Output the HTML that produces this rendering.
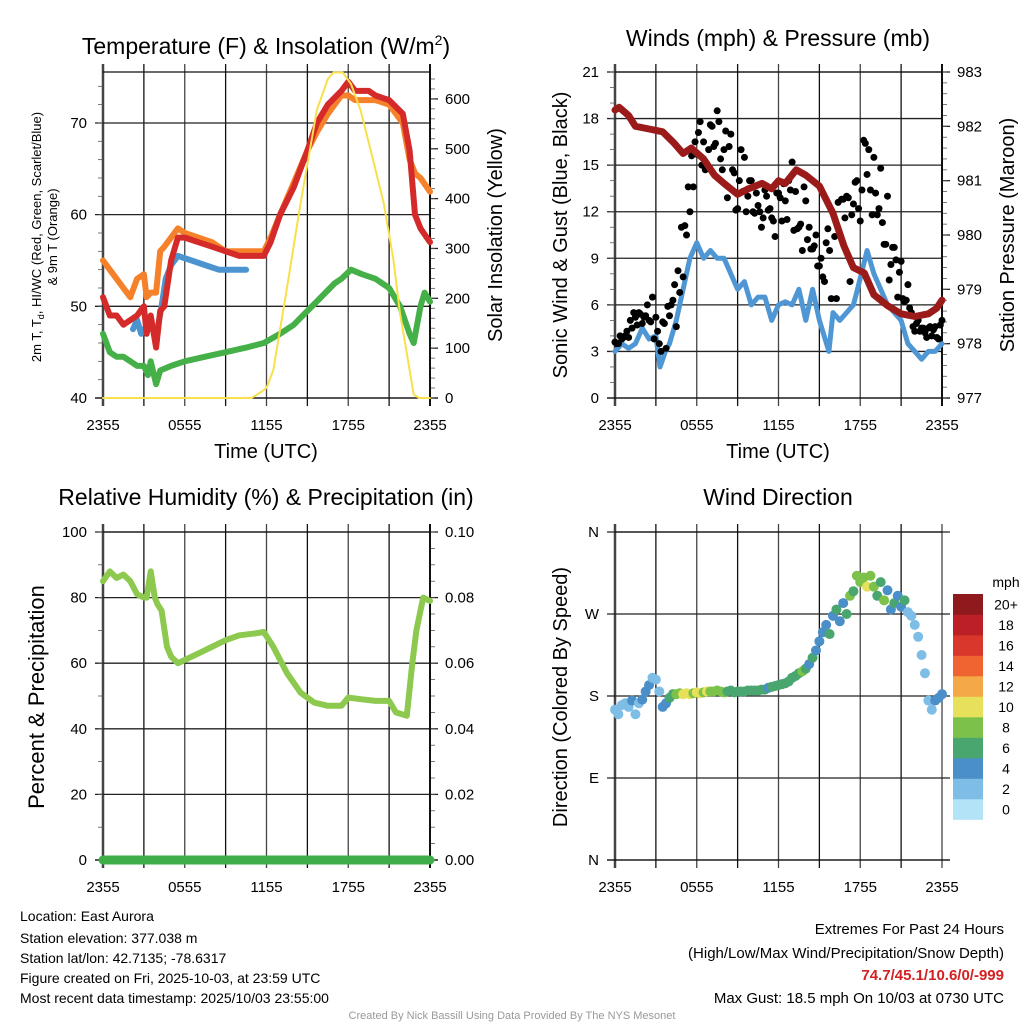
<!DOCTYPE html>
<html><head><meta charset="utf-8"><style>
html,body{margin:0;padding:0;background:#fff;}
svg{display:block;font-family:"Liberation Sans",sans-serif;}
</style></head><body>
<svg id="chart" width="1024" height="1024" viewBox="0 0 1024 1024" xmlns="http://www.w3.org/2000/svg">
<rect width="1024" height="1024" fill="#fff"/>
<text x="266" y="54" font-size="23" text-anchor="middle">Temperature (F) &amp; Insolation (W/m<tspan dy="-9" font-size="14">2</tspan><tspan dy="9">)</tspan></text>
<text x="778" y="46" font-size="23" text-anchor="middle">Winds (mph) &amp; Pressure (mb)</text>
<text x="266" y="505" font-size="23" text-anchor="middle">Relative Humidity (%) &amp; Precipitation (in)</text>
<text x="778" y="505" font-size="23" text-anchor="middle">Wind Direction</text>
<text transform="translate(41,237) rotate(-90)" font-size="13" text-anchor="middle">2m T, T<tspan dy="3" font-size="9">d</tspan><tspan dy="-3">, HI/WC (Red, Green, Scarlet/Blue)</tspan></text>
<text transform="translate(57,237) rotate(-90)" font-size="13" text-anchor="middle">&amp; 9m T (Orange)</text>
<text transform="translate(502,235) rotate(-90)" font-size="20" text-anchor="middle">Solar Insolation (Yellow)</text>
<text transform="translate(567,235) rotate(-90)" font-size="20" text-anchor="middle">Sonic Wind &amp; Gust (Blue, Black)</text>
<text transform="translate(1014,235) rotate(-90)" font-size="20" text-anchor="middle">Station Pressure (Maroon)</text>
<text transform="translate(44,697) rotate(-90)" font-size="22" text-anchor="middle">Percent &amp; Precipitation</text>
<text transform="translate(567,697) rotate(-90)" font-size="20" text-anchor="middle">Direction (Colored By Speed)</text>
<text x="266" y="458" font-size="20" text-anchor="middle">Time (UTC)</text>
<text x="778" y="458" font-size="20" text-anchor="middle">Time (UTC)</text>
<g font-size="14">
<text x="20" y="921">Location: East Aurora</text>
<text x="20" y="943">Station elevation: 377.038 m</text>
<text x="20" y="963">Station lat/lon: 42.7135; -78.6317</text>
<text x="20" y="983">Figure created on Fri, 2025-10-03, at 23:59 UTC</text>
<text x="20" y="1003">Most recent data timestamp: 2025/10/03 23:55:00</text>
</g>
<g font-size="15" text-anchor="end">
<text x="1004" y="934">Extremes For Past 24 Hours</text>
<text x="1004" y="958">(High/Low/Max Wind/Precipitation/Snow Depth)</text>
<text x="1004" y="980" fill="#d42020" font-weight="bold">74.7/45.1/10.6/0/-999</text>
<text x="1004" y="1003">Max Gust: 18.5 mph On 10/03 at 0730 UTC</text>
</g>
<text x="512" y="1019" font-size="11" fill="#999" text-anchor="middle">Created By Nick Bassill Using Data Provided By The NYS Mesonet</text>
<text x="1006" y="587" font-size="14" text-anchor="middle">mph</text>
</svg>
<script>
// ---- data (hours since 2355 UTC) ----
const tHours = [0,0.5,1,1.5,2,2.5,3,3.2,3.5,3.9,4.2,4.5,5,5.5,6,7,8,9,10,11,11.8,12.3,13,14,15,15.7,16.5,17.5,18,18.5,19.5,20,21,22,22.5,22.9,23.3,24];
const tempRed = [51,49,49,48,48.5,49,50,47,49,45.5,49.5,50,55,57.5,57.5,57,56.5,56,55.5,55.5,55.5,57,60,63,67,70,72,73.5,74.5,73.5,73.5,73,72.5,71,67,60,58.5,57];
const temp9m = [55,54,53,52,51,53,53.5,51,51.5,51.5,56,56.5,57.5,58.5,58,57.5,57,56,56,56,56,57.5,60,63.5,67,69,71,73,73,72.5,72.5,72.5,72,70,66,64.5,64,62.5];
const dewHours = [0,0.5,1,1.5,2,2.5,3,3.3,3.5,3.9,4.2,5,6,7.5,9,10.5,11.8,13,14,15,16,17,17.5,18.2,19,20,21,21.8,22.5,22.8,23.3,23.6,24];
const dewPt = [47,45,44.5,44.5,44,43.5,43.5,42.5,44,41.5,43,43.5,44,44.5,45,45.5,46,47,48,49.5,51,52.5,53,54,53.5,53,52,50,47,46,50,51.5,50.5];
const hiHours = [2.2,2.5,2.8,3.0,null,3.6,4.0,4.3,4.6,5.0,5.5,6.5,7.5,8.5,9.5,10.5,null,11.8];
const hiWc = [47.5,48.5,47,47.5,null,47.5,47.5,50,53,54.5,55.5,55,54.5,54,54,54,null,55];
const solHours = [0,10.9,11.5,12,12.5,13.5,14.5,15.7,16.5,16.9,17.6,18.2,18.9,19.8,20.6,21.3,21.8,22.3,22.8,23.2,24];
const solar = [0,0,10,20,56,220,391,578,640,653,653,630,578,480,391,280,170,90,7,0,0];
const presHours = [0,0.3,1,1.5,2.5,3.5,4.3,5,5.6,6.5,7.3,8,9,9.8,10.8,11.5,12,12.5,13.3,14,15,16,16.8,17.5,18.3,19,20,21,22,23,23.6,24];
const pressure = [982.3,982.35,982.2,982.0,981.95,981.9,981.7,981.5,981.6,981.4,981.1,980.95,980.75,980.85,980.95,980.85,981.0,980.95,981.2,981.1,980.9,980.4,979.8,979.4,979.3,978.9,978.7,978.55,978.5,978.55,978.65,978.8];
const windHours = [0,0.5,1,1.5,2,2.5,3,3.3,3.7,4,4.5,5,5.5,6,6.5,7,7.5,8,8.5,9,9.5,10,10.5,11,11.5,12,12.5,13,13.5,14,14.5,15,15.7,16,16.5,17,17.5,17.8,18.5,19,19.5,20,20.5,21,21.5,22,22.5,23,23.5,24];
const windSpd = [3,3.5,3.2,3.5,4.5,3.8,4,2,3,3.5,5,7,9,10,9,9.5,9,9,8,7,7.5,6,6.5,6.5,5,6,6.2,6,7,5,7,5,3,5.5,5,5.5,6,7,9.5,8,7,6,5.5,5,3.5,3,2.5,3,3,3.5];
const gustStep = 0.25;
const gusts = [3.6,3.5,3.8,4.0,3.9,4.5,5.2,5.5,4.8,5.3,5.0,6.5,5.2,3.5,4.9,3.2,5.3,6.3,4.6,6.8,7.8,10.5,12.0,13.6,15.7,17.8,16.5,14.8,17.6,16.2,18.5,15.4,16.0,12.9,17.0,14.5,12.2,16.0,15.5,13.0,14.0,11.9,12.4,11.0,13.4,12.1,11.6,10.4,13.2,11.4,12.7,14.0,15.2,13.3,11.0,9.5,12.7,11.0,9.6,10.5,8.5,7.8,10.0,9.5,11.9,6.4,10.5,12.8,13.0,7.5,12.5,14.0,11.4,16.6,14.4,13.4,15.5,11.8,14.8,9.9,13.0,8.6,9.7,6.5,8.8,6.2,7.3,5.5,4.3,5.0,4.5,4.2,4.5,4.0,4.6,3.8,5.0];
const gusts2 = [3.5,4.0,3.9,4.3,5.0,5.5,4.7,5.4,5.2,6.0,4.9,3.8,4.3,3.0,4.8,5.9,6.0,7.3,8.2,11.0,11.1,13.6,15.6,16.5,17.1,15.0,14.7,16.0,17.5,16.4,17.8,14.7,17.2,16.2,14.7,12.1,14.0,13.3,12.0,14.0,12.0,13.2,12.0,11.6,13.0,12.2,11.4,13.2,12.9,13.8,11.5,13.4,10.8,10.9,11.2,13.6,10.2,9.6,9.8,8.5,9.0,7.5,10.9,6.4,10.4,12.6,12.8,11.6,12.9,11.8,13.9,12.2,13.4,16.4,16.0,11.8,13.2,12.2,11.3,9.9,7.6,9.7,8.9,8.1,6.4,6.3,5.8,4.6,4.8,4.3,4.5,3.9,4.6,4.4,3.9,4.7];
const rhHours = [0,0.5,1,1.5,2,2.5,3,3.2,3.5,3.8,4,4.3,4.7,5,5.5,6,7,8,9,10,11,11.8,12.5,13.5,14.5,15.5,16.5,17.5,18,19,20,21,21.5,22.3,22.7,23,23.5,24];
const rh = [85,88,86,87,85,81,80,80,88,80,78,76,65,62,60,61,63,65,67,68.5,69,69.5,65,57,51,48,47,47,49.5,49,48.5,48.5,45,44,60,70,80,79];
const precip = [0,0];
const dirStep = 0.25;
const windDir = [165,160,170,172,168,175,160,172,176,185,192,200,198,185,168,172,178,182,182,183,182,183,182,183,184,183,184,185,185,185,186,185,184,185,186,184,185,185,185,186,186,186,186,187,187,189,190,191,192,193,194,196,200,202,205,207,210,215,222,230,240,250,258,248,268,275,262,282,270,290,295,312,305,310,300,312,300,290,305,285,296,275,282,290,278,285,272,268,258,245,225,205,175,165,175,178,182];
const dirSpeed = [2,3,3,2.5,3,4,2.5,3,4,4.5,4,3,2.5,3,4,4.5,6,7,8.5,9,10,10.5,10,9.5,10,10.5,9.5,10,9,8.5,9,8.5,8,7.5,7,6.5,6,6.5,6,6.5,6,6.5,6,6,6,5.5,6,6.5,6.5,6,7,6.5,6,7,6.5,8,6,5,6.5,4.5,5,4.5,5.5,6,4.5,7,5,4,6,8.5,7,8,9,8.5,10.5,9,8,7,6,8,5,4.5,6,5,4.5,6,3.5,3,3,2.5,2.5,3,2.5,3.5,4,4.5,4.5];
const speedLabels = ['0','2','4','6','8','10','12','14','16','18','20+'];
const speedColors = ['#b3e3f7','#7ebde6','#4a8fc7','#4aa66f','#7cc24a','#e6e05a','#f5a847','#ef6430','#d9362c','#bd1f27','#8e1a1e'];
const timeLabels = ['2355','0555','1155','1755','2355'];

const NS='http://www.w3.org/2000/svg';
const svg=document.getElementById('chart');
function el(tag,parent,name){
  const e=document.createElementNS(NS,tag);
  
  
  parent.appendChild(e);
  return e;
}
function panel(p,name){
  const g=el('g',svg,name);
  p.x=h=>p.x0+h/24*(p.x1-p.x0);
  p.y=v=>p.y1-(v-p.lmin)/(p.lmax-p.lmin)*(p.y1-p.y0);
  p.yr=v=>p.y1-(v-p.rmin)/(p.rmax-p.rmin)*(p.y1-p.y0);
  for(let h=0;h<=24;h+=3){
    const l=el('line',g,'x-grid-line');
    l.setAttribute('x1',p.x(h));l.setAttribute('x2',p.x(h));
    l.setAttribute('y1',p.y0-8);l.setAttribute('y2',p.y1+8);
    l.setAttribute('stroke',h%6===0?'#444':'#111');l.setAttribute('stroke-width',h===0?2.5:1.3);
  }
  timeLabels.forEach((t,i)=>{
    const tx=el('text',g,'x-tick-label');
    tx.setAttribute('x',p.x(i*6));tx.setAttribute('y',p.y1+32);
    tx.setAttribute('font-size','15');tx.setAttribute('text-anchor','middle');
    tx.textContent=t;
  });
  p.lticks.forEach((v,i)=>{
    const l=el('line',g,'y-grid-line');
    l.setAttribute('x1',p.x0-8);l.setAttribute('x2',p.rightExt||p.x1);
    l.setAttribute('y1',p.y(v));l.setAttribute('y2',p.y(v));
    l.setAttribute('stroke','#222');l.setAttribute('stroke-width',1.3);
    const tx=el('text',g,'y-tick-label');
    tx.setAttribute('x',p.x0-16);tx.setAttribute('y',p.y(v)+5);
    tx.setAttribute('font-size','15');tx.setAttribute('text-anchor','end');
    tx.textContent=p.llabels?p.llabels[i]:v;
  });
  if(p.lminor){
    for(let v=p.lmin;v<=p.lmax;v+=p.lminor){
      const l=el('line',g,'y-minor-tick');
      l.setAttribute('x1',p.x0-5);l.setAttribute('x2',p.x0);
      l.setAttribute('y1',p.y(v));l.setAttribute('y2',p.y(v));
      l.setAttribute('stroke','#555');l.setAttribute('stroke-width',0.8);
    }
  }
  const tb=el('line',g,'top-border');
  tb.setAttribute('x1',p.x0);tb.setAttribute('x2',p.x1);tb.setAttribute('y1',p.y0);tb.setAttribute('y2',p.y0);
  tb.setAttribute('stroke','#111');tb.setAttribute('stroke-width',1.3);
  const bb=el('line',g,'bottom-border');
  bb.setAttribute('x1',p.x0-8);bb.setAttribute('x2',p.x1+8);bb.setAttribute('y1',p.y1);bb.setAttribute('y2',p.y1);
  bb.setAttribute('stroke','#111');bb.setAttribute('stroke-width',1.3);
  if(p.rticks){
    p.rticks.forEach((v,i)=>{
      const l=el('line',g,'right-tick');
      l.setAttribute('x1',p.x1);l.setAttribute('x2',p.x1+8);
      l.setAttribute('y1',p.yr(v));l.setAttribute('y2',p.yr(v));
      l.setAttribute('stroke','#222');l.setAttribute('stroke-width',1.3);
      const tx=el('text',g,'right-tick-label');
      tx.setAttribute('x',p.x1+15);tx.setAttribute('y',p.yr(v)+5);
      tx.setAttribute('font-size','15');
      tx.textContent=p.rlabels?p.rlabels[i]:v;
    });
    for(let v=p.rmin;v<=p.rmax+1e-9;v+=p.rminor){
      const l=el('line',g,'right-minor-tick');
      l.setAttribute('x1',p.x1);l.setAttribute('x2',p.x1+5);
      l.setAttribute('y1',p.yr(v));l.setAttribute('y2',p.yr(v));
      l.setAttribute('stroke','#555');l.setAttribute('stroke-width',0.8);
    }
    const rb=el('line',g,'right-border');
    rb.setAttribute('x1',p.x1);rb.setAttribute('x2',p.x1);rb.setAttribute('y1',p.y0-8);rb.setAttribute('y2',p.y1+8);
    rb.setAttribute('stroke','#111');rb.setAttribute('stroke-width',2);
  }
  return g;
}
function line(p,g,xs,ys,scale,color,w,name){
  let d='',pen=false;
  xs.forEach((h,i)=>{
    if(h===null||ys[i]===null){pen=false;return;}
    d+=(pen?'L':'M')+p.x(h).toFixed(1)+' '+scale(ys[i]).toFixed(1)+' ';pen=true;
  });
  const e=el('path',g,name);
  e.setAttribute('d',d);e.setAttribute('fill','none');e.setAttribute('stroke',color);
  e.setAttribute('stroke-width',w);e.setAttribute('stroke-linejoin','round');e.setAttribute('stroke-linecap','round');
  return e;
}
const P1={x0:103,x1:430,y0:72,y1:398,lmin:40,lmax:75.56,lticks:[40,50,60,70],lminor:2,rmin:0,rmax:654,rticks:[0,100,200,300,400,500,600],rminor:20};
const g1=panel(P1,'temperature-panel');
line(P1,g1,tHours,temp9m,P1.y,'#f5822a',6,'temp-9m-line');
line(P1,g1,hiHours,hiWc,P1.y,'#4b94cf',6,'heat-index-line');
line(P1,g1,tHours,tempRed,P1.y,'#d42a2a',6,'temp-2m-line');
line(P1,g1,dewHours,dewPt,P1.y,'#46b048',6,'dewpoint-line');
line(P1,g1,solHours,solar,P1.yr,'#f7e04a',2,'solar-line');
const P2={x0:615,x1:942,y0:72,y1:398,lmin:0,lmax:21,lticks:[0,3,6,9,12,15,18,21],lminor:1,rmin:977,rmax:983,rticks:[977,978,979,980,981,982,983],rminor:0.2};
const g2=panel(P2,'wind-panel');
line(P2,g2,windHours,windSpd,P2.y,'#4f97d4',5,'wind-speed-line');
gusts.forEach((v,i)=>{
  const c=el('circle',g2,'gust-point');
  c.setAttribute('cx',P2.x(i*gustStep));c.setAttribute('cy',P2.y(v));c.setAttribute('r',3.5);c.setAttribute('fill','#000');
});
gusts2.forEach((v,i)=>{
  const c=el('circle',g2,'gust-point');
  c.setAttribute('cx',P2.x(i*gustStep+0.125));c.setAttribute('cy',P2.y(v));c.setAttribute('r',3.5);c.setAttribute('fill','#000');
});
line(P2,g2,presHours,pressure,P2.yr,'#9b1b1b',7,'pressure-line');
const P3={x0:103,x1:430,y0:532,y1:860,lmin:0,lmax:100,lticks:[0,20,40,60,80,100],lminor:10,rmin:0,rmax:0.1,rticks:[0,0.02,0.04,0.06,0.08,0.1],rlabels:['0.00','0.02','0.04','0.06','0.08','0.10'],rminor:0.005};
const g3=panel(P3,'rh-panel');
line(P3,g3,rhHours,rh,P3.y,'#8dc94e',6,'rh-line');
line(P3,g3,[0,24],precip,P3.yr,'#3fae49',9,'precip-line');
const P4={x0:615,x1:942,y0:532,y1:860,lmin:0,lmax:360,lticks:[0,90,180,270,360],llabels:['N','E','S','W','N'],rightExt:950};
const g4=panel(P4,'winddir-panel');
windDir.forEach((v,i)=>{
  const c=el('circle',g4,'winddir-point');
  const bin=Math.min(10,Math.floor(dirSpeed[i]/2));
  c.setAttribute('cx',P4.x(i*dirStep));c.setAttribute('cy',P4.y(v));c.setAttribute('r',5);c.setAttribute('fill',speedColors[bin]);
});
const cb=el('g',svg,'speed-colorbar');
const cbTop=594,cbH=20.5;
speedColors.forEach((col,i)=>{
  const r=el('rect',cb,'colorbar-box');
  const y=cbTop+(10-i)*cbH;
  r.setAttribute('x',953);r.setAttribute('y',y);r.setAttribute('width',30);r.setAttribute('height',cbH+0.3);r.setAttribute('fill',col);
  const t=el('text',cb,'colorbar-label');
  t.setAttribute('x',1006);t.setAttribute('y',y+cbH/2+5);t.setAttribute('font-size','14');t.setAttribute('text-anchor','middle');
  t.textContent=speedLabels[i];
});
</script>
</body></html>
